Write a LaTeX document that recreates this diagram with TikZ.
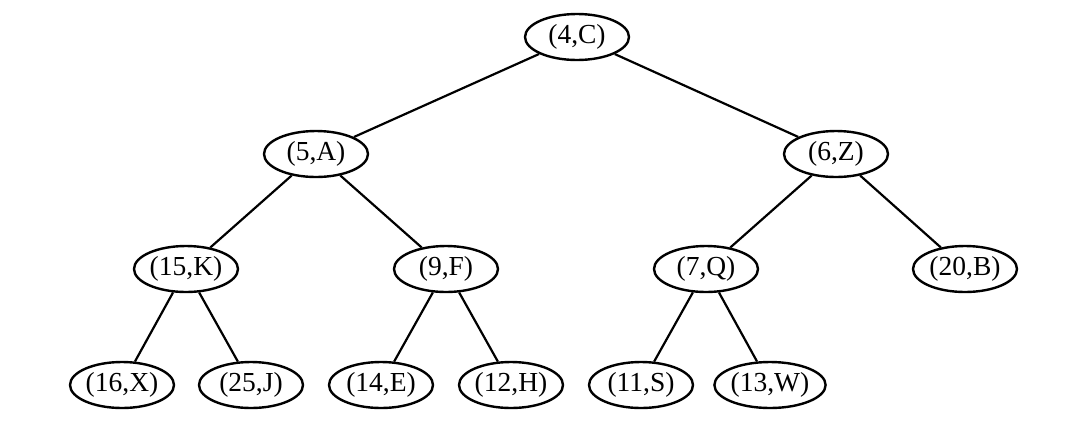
\documentclass[tikz,border=0pt]{standalone}
\usepackage{fontspec}
\setmainfont{Liberation Serif}
\usetikzlibrary{shapes.geometric}
\begin{document}
\begin{tikzpicture}[x=1pt,y=-1pt,
  tn/.style={ellipse,draw,line width=2.4pt,minimum width=104pt,minimum height=46pt,inner sep=0pt,font=\fontsize{27.5}{30}\selectfont},
  ed/.style={line width=2.2pt}]
\useasboundingbox (0,0) rectangle (1065,432);
\node[tn] (c) at (577,37) {(4,C)};
\node[tn] (a) at (316,154) {(5,A)};
\node[tn] (z) at (836,154) {(6,Z)};
\node[tn] (k) at (186,269) {(15,K)};
\node[tn] (f) at (446,269) {(9,F)};
\node[tn] (q) at (706,269) {(7,Q)};
\node[tn] (b) at (965,269) {(20,B)};
\node[tn] (x) at (122,385) {(16,X)};
\node[tn] (j) at (251,385) {(25,J)};
\node[tn] (e) at (381,385) {(14,E)};
\node[tn] (h) at (511,385) {(12,H)};
\node[tn] (s) at (641,385) {(11,S)};
\node[tn] (w) at (770,385) {(13,W)};
\draw[ed] (c) -- (a);
\draw[ed] (c) -- (z);
\draw[ed] (a) -- (k);
\draw[ed] (a) -- (f);
\draw[ed] (z) -- (q);
\draw[ed] (z) -- (b);
\draw[ed] (k) -- (x);
\draw[ed] (k) -- (j);
\draw[ed] (f) -- (e);
\draw[ed] (f) -- (h);
\draw[ed] (q) -- (s);
\draw[ed] (q) -- (w);
\end{tikzpicture}
\end{document}
